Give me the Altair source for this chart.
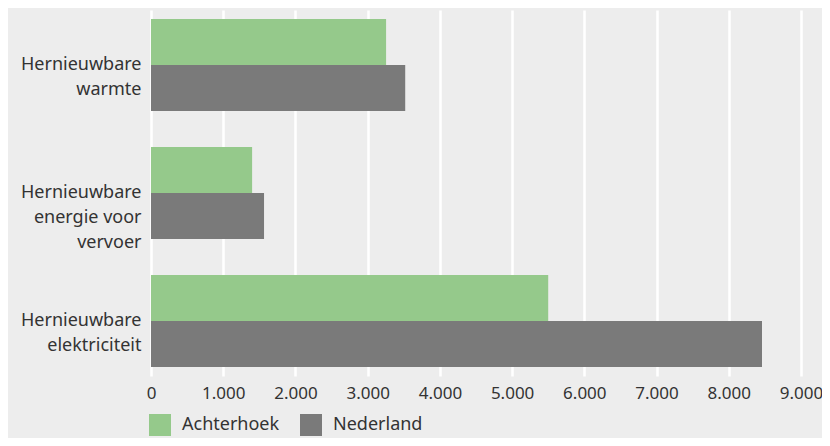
import altair as alt
import pandas as pd

categories = ["Hernieuwbare|warmte", "Hernieuwbare|energie voor|vervoer", "Hernieuwbare|elektriciteit"]
series = ["Achterhoek", "Nederland"]
achterhoek = [3255, 1400, 5500]
nederland = [3520, 1565, 8460]
x_ticks = [0, 1000, 2000, 3000, 4000, 5000, 6000, 7000, 8000, 9000]

rows = []
for c, a, n in zip(categories, achterhoek, nederland):
    rows.append({"categorie": c, "regio": "Achterhoek", "waarde": a})
    rows.append({"categorie": c, "regio": "Nederland", "waarde": n})
df = pd.DataFrame(rows)

FONT = "Noto Sans"
TEXT = "#333333"

chart = alt.Chart(df).mark_bar().encode(
    y=alt.Y("categorie:N", sort=categories, title=None,
            scale=alt.Scale(paddingInner=0.28, paddingOuter=0.07),
            axis=alt.Axis(labelExpr="split(datum.label, '|')", labelFontSize=18,
                          labelLineHeight=25, labelColor=TEXT, labelFont=FONT,
                          ticks=False, domain=False, labelPadding=10, grid=False)),
    yOffset=alt.YOffset("regio:N", sort=series),
    x=alt.X("waarde:Q", title=None,
            scale=alt.Scale(domain=[0, 9000], nice=False),
            axis=alt.Axis(values=x_ticks, labelExpr="replace(format(datum.value, ','), ',', '.')",
                          labelFontSize=17, labelColor=TEXT, labelFont=FONT,
                          labelFlush=False, labelOverlap=False,
                          ticks=False, domain=False, labelPadding=9,
                          grid=True, gridColor="white", gridWidth=2.5)),
    color=alt.Color("regio:N", sort=series,
                    scale=alt.Scale(domain=series, range=["#95c98b", "#7a7a7a"]),
                    legend=alt.Legend(title=None, orient="none", direction="horizontal",
                                      legendX=-2, legendY=404,
                                      symbolType="square", symbolSize=484,
                                      symbolStrokeWidth=0, symbolOpacity=1,
                                      labelFontSize=18, labelColor=TEXT, labelFont=FONT,
                                      labelOffset=11, columnPadding=20, padding=0)),
).properties(
    width=650, height=366,
    background="#ededed",
    padding={"left": 143, "top": 2, "right": 21, "bottom": 62},
    autosize=alt.AutoSizeParams(type="none"),
).configure_view(stroke=None, fill="#ededed")

chart.save("out.html", embed_options={"renderer": "svg", "actions": False})
